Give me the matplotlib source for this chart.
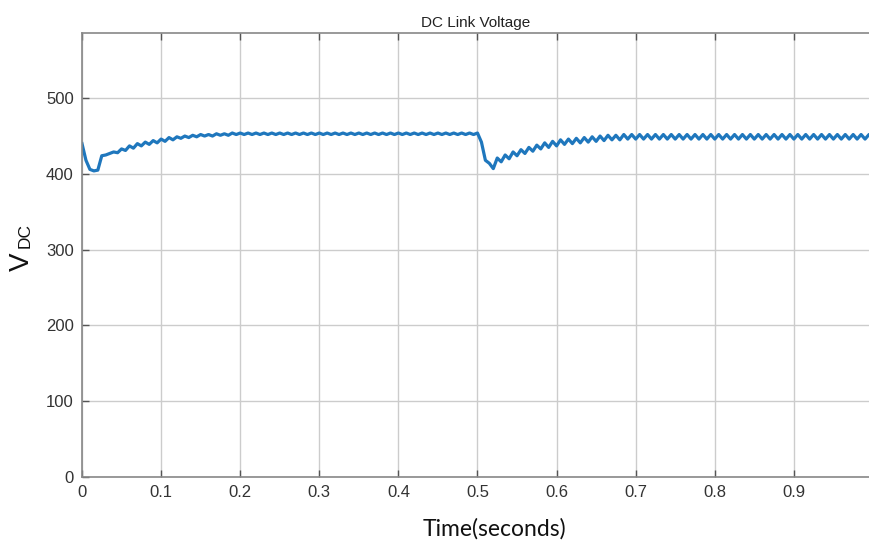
import numpy as np
import matplotlib.pyplot as plt

# DC link voltage, one value every 5 ms
step = 0.005
vdc_first = [
    440, 418, 406, 404, 405, 424, 425, 427, 429, 428,
    433, 431, 437, 434, 440, 437, 442, 439, 444, 441,
    446, 443, 448, 445, 449, 447, 450, 448, 451, 449,
    452, 450, 452, 450, 453, 451, 453, 451, 454, 452,
    454, 452, 454, 452, 454, 452, 454, 452, 454, 452,
    454, 452, 454, 452, 454, 452, 454, 452, 454, 452,
    454, 452, 454, 452, 454, 452, 454, 452, 454, 452,
    454, 452, 454, 452, 454, 452, 454, 452, 454, 452,
    454, 452, 454, 452, 454, 452, 454, 452, 454, 452,
    454, 452, 454, 452, 454, 452, 454, 452, 454, 452,
]
vdc_second = [
    454, 442, 418, 414, 407, 421, 416, 425, 420, 429,
    424, 432, 427, 435, 430, 438, 433, 441, 435, 443,
    437, 445, 439, 446, 440, 447, 441, 448, 442, 449,
    443, 450, 444, 451, 445, 451, 445, 452, 446, 452,
    446, 452, 446, 452, 446, 452, 446, 452, 446, 452,
    446, 452, 446, 452, 446, 452, 446, 452, 446, 452,
    446, 452, 446, 452, 446, 452, 446, 452, 446, 452,
    446, 452, 446, 452, 446, 452, 446, 452, 446, 452,
    446, 452, 446, 452, 446, 452, 446, 452, 446, 452,
    446, 452, 446, 452, 446, 452, 446, 452, 446, 452,
    446,
]
vdc = np.array(vdc_first + vdc_second)
t = np.arange(len(vdc)) * step

xticks = [0, 0.1, 0.2, 0.3, 0.4, 0.5, 0.6, 0.7, 0.8, 0.9]
yticks = [0, 100, 200, 300, 400, 500]

plt.rcParams['font.family'] = ['Liberation Sans', 'DejaVu Sans']

fig = plt.figure(figsize=(8.69, 5.48), dpi=100)
ax = fig.add_axes([82 / 869, 1 - 477 / 548, 1 - 82 / 869, (477 - 33) / 548])

ax.plot(t, vdc, color='#1f77bd', linewidth=2.3)

ax.set_xlim(0, 0.995)
ax.set_ylim(0, 586)
ax.set_xticks(xticks)
ax.set_xticklabels(['0'] + [f'{x:.1f}' for x in xticks[1:]])
ax.set_yticks(yticks)
ax.grid(color='#cccccc', linewidth=1.0)
ax.tick_params(direction='in', length=5, width=1, colors='#555555',
               labelsize=12, labelcolor='#333333', top=True, pad=6)
for side in ['left', 'bottom', 'top']:
    ax.spines[side].set_color('#888888')
    ax.spines[side].set_linewidth(1.2)
ax.spines['right'].set_visible(False)

ax.set_title('DC Link Voltage', fontsize=11, color='#222222', pad=4)
ax.set_xlabel('Time(seconds)', fontsize=16.5, family=['Lato', 'DejaVu Sans'],
              color='#111111')
ax.xaxis.set_label_coords(0.524, -0.093)
fig.text(22 / 869, 1 - 262 / 548, 'V', fontsize=20, rotation=90,
         ha='center', va='center', color='#111111')
fig.text(25 / 869, 1 - 236 / 548, 'DC', fontsize=12.5, rotation=90,
         ha='center', va='center', color='#111111')

fig.savefig('out.png', dpi=100)
